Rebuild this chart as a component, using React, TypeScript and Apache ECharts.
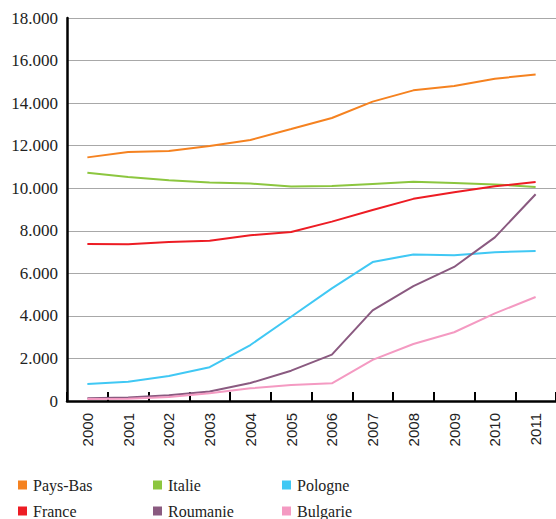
import React, { useEffect, useRef } from "react";
import * as echarts from "echarts";

const years = ["2000", "2001", "2002", "2003", "2004", "2005", "2006", "2007", "2008", "2009", "2010", "2011"];
const paysBas = [11450, 11700, 11750, 11985, 12270, 12780, 13300, 14070, 14600, 14800, 15150, 15340];
const italie = [10730, 10530, 10370, 10270, 10220, 10080, 10100, 10200, 10300, 10250, 10180, 10060];
const pologne = [800, 900, 1175, 1590, 2630, 3960, 5295, 6530, 6890, 6845, 6990, 7050];
const france = [7380, 7365, 7470, 7535, 7790, 7940, 8430, 8980, 9500, 9810, 10090, 10290];
const roumanie = [125, 170, 270, 445, 845, 1425, 2180, 4260, 5400, 6300, 7690, 9715];
const bulgarie = [90, 105, 190, 360, 595, 750, 830, 1930, 2680, 3230, 4120, 4890];
const yTicks = { min: 0, max: 18000, interval: 2000 };

const seriesDefs = [
  { name: "Pays-Bas", data: paysBas, color: "#F58220" },
  { name: "Italie", data: italie, color: "#8CC63F" },
  { name: "Pologne", data: pologne, color: "#40C8F4" },
  { name: "France", data: france, color: "#ED1C24" },
  { name: "Roumanie", data: roumanie, color: "#8A5A80" },
  { name: "Bulgarie", data: bulgarie, color: "#F49AC2" },
];

const legendPos = [
  { left: 18, top: 477 },
  { left: 153, top: 477 },
  { left: 282, top: 477 },
  { left: 18, top: 503 },
  { left: 153, top: 503 },
  { left: 282, top: 503 },
];

const SERIF = "'Liberation Serif', 'DejaVu Serif', serif";
const SANS = "'Liberation Sans', Arial, sans-serif";

export default function App() {
  const ref = useRef<HTMLDivElement>(null);
  useEffect(() => {
    if (!ref.current) return;
    const chart = echarts.init(ref.current, null, { renderer: "svg" });
    chart.setOption({
      animation: false,
      backgroundColor: "#ffffff",
      grid: { left: 67, top: 18, width: 500, height: 383, containLabel: false },
      legend: seriesDefs.map((s, i) => ({
        data: [s.name],
        left: legendPos[i].left,
        top: legendPos[i].top,
        padding: 0,
        itemWidth: 9,
        itemHeight: 9,
        itemGap: 6,
        icon: "rect",
        textStyle: { fontFamily: SERIF, fontSize: 16, color: "#222", padding: [0, 0, 0, 1] },
      })),
      xAxis: {
        type: "category",
        data: years,
        boundaryGap: true,
        axisLine: { lineStyle: { color: "#000", width: 2.5 } },
        axisTick: { show: true, inside: true, length: 9, alignWithLabel: false, lineStyle: { color: "#000", width: 2 } },
        axisLabel: {
          rotate: 90,
          margin: 12,
          fontFamily: SANS,
          fontSize: 15,
          color: "#222",
        },
        splitLine: { show: false },
      },
      yAxis: {
        type: "value",
        min: yTicks.min,
        max: yTicks.max,
        interval: yTicks.interval,
        axisLine: { show: true, lineStyle: { color: "#000", width: 2.5 } },
        axisTick: { show: false },
        axisLabel: {
          margin: 9,
          fontFamily: SERIF,
          fontSize: 17,
          color: "#222",
          formatter: (v: number) => (v === 0 ? "0" : v.toLocaleString("de-DE")),
        },
        splitLine: { show: true, lineStyle: { color: "#a8a8a8", width: 1 } },
      },
      series: seriesDefs.map((s) => ({
        name: s.name,
        type: "line",
        data: s.data,
        symbol: "none",
        smooth: false,
        color: s.color,
        lineStyle: { color: s.color, width: 2 },
      })),
    });
    return () => chart.dispose();
  }, []);
  return (
    <div
      ref={ref}
      style={{ position: "fixed", left: 0, top: 0, width: 556, height: 519 }}
    />
  );
}
